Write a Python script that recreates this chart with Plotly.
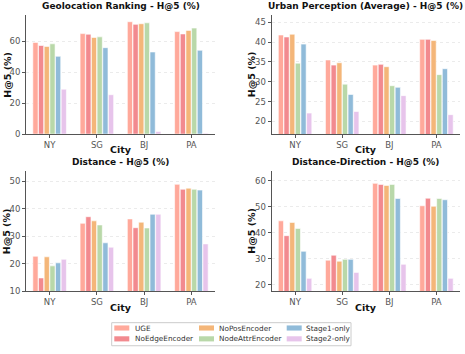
import plotly.graph_objects as go

cities = ['NY', 'SG', 'BJ', 'PA']
models = ['UGE', 'NoEdgeEncoder', 'NoPosEncoder', 'NodeAttrEncoder', 'Stage1-only', 'Stage2-only']
colors = ['#ffa99b', '#f28a8f', '#f4b679', '#b9d8a9', '#90bbd9', '#e7c4eb']

# H@5 (%) per model, order NY, SG, BJ, PA
geo = {
    'UGE':             [59.4, 65.1, 72.8, 66.4],
    'NoEdgeEncoder':   [57.4, 64.7, 71.1, 64.9],
    'NoPosEncoder':    [56.8, 62.6, 71.5, 67.2],
    'NodeAttrEncoder': [58.5, 63.0, 72.1, 68.7],
    'Stage1-only':     [50.4, 56.0, 53.2, 54.3],
    'Stage2-only':     [29.1, 25.5, 1.7, 0.6],
}
urban = {
    'UGE':             [41.8, 35.5, 34.2, 40.7],
    'NoEdgeEncoder':   [41.3, 34.2, 34.4, 40.7],
    'NoPosEncoder':    [42.0, 34.8, 33.8, 40.4],
    'NodeAttrEncoder': [34.7, 29.4, 29.0, 31.8],
    'Stage1-only':     [39.5, 26.8, 28.6, 33.3],
    'Stage2-only':     [22.1, 22.5, 26.5, 21.7],
}
dist = {
    'UGE':             [22.7, 34.7, 36.3, 48.9],
    'NoEdgeEncoder':   [14.8, 37.1, 33.1, 47.1],
    'NoPosEncoder':    [22.5, 35.6, 35.1, 47.5],
    'NodeAttrEncoder': [19.2, 34.1, 33.0, 47.1],
    'Stage1-only':     [20.3, 27.6, 38.0, 46.8],
    'Stage2-only':     [21.6, 26.0, 38.0, 27.2],
}
distdir = {
    'UGE':             [44.6, 29.5, 59.0, 50.4],
    'NoEdgeEncoder':   [38.9, 31.4, 58.6, 53.3],
    'NoPosEncoder':    [44.0, 29.1, 58.2, 50.2],
    'NodeAttrEncoder': [41.7, 29.8, 58.6, 53.2],
    'Stage1-only':     [32.9, 29.8, 53.2, 52.7],
    'Stage2-only':     [22.5, 24.8, 27.9, 22.5],
}

panels = [
    ('Geolocation Ranking - H@5 (%)', geo, [0, 77.3], [0, 20, 40, 60]),
    ('Urban Perception (Average) - H@5 (%)', urban, [16.8, 46.9], [20, 25, 30, 35, 40, 45]),
    ('Distance - H@5 (%)', dist, [10, 53.8], [10, 20, 30, 40, 50]),
    ('Distance-Direction - H@5 (%)', distdir, [17.6, 63.8], [20, 30, 40, 50, 60]),
]

W, H = 465, 354
xdoms = [(26, 215), (271.5, 460)]
ydoms = [(15, 136), (173.3, 295.3)]
title_y = [6, 164.7]
city_y = [152, 311.7]
ytitle_x = [7.3, 251.7]
font = 'DejaVu Sans'

def px(x):
    return x / W

def py(y):
    return 1 - y / H

fig = go.Figure()
layout = {}
annots = []
shapes = []

for i, (title, data, yr, yt) in enumerate(panels):
    r, c = divmod(i, 2)
    n = '' if i == 0 else str(i + 1)
    x0, x1 = xdoms[c]
    y0, y1 = ydoms[r]
    for m, col in zip(models, colors):
        fig.add_trace(go.Bar(
            x=cities, y=data[m], name=m, marker_color=col,
            marker_line=dict(color='white', width=0.6),
            xaxis='x' + n, yaxis='y' + n, showlegend=False,
        ))
    layout['xaxis' + n] = dict(
        domain=[px(x0), px(x1)], anchor='y' + n,
        showline=True, linecolor='#555', linewidth=1,
        ticks='outside', ticklen=3, tickcolor='#555',
        tickfont=dict(size=8.5, color='#555'),
    )
    layout['yaxis' + n] = dict(
        domain=[py(y1), py(y0)], anchor='x' + n,
        range=yr, tickvals=yt,
        showline=True, linecolor='#555', linewidth=1,
        ticks='outside', ticklen=3, tickcolor='#555',
        showgrid=True, gridcolor='#ebebeb', gridwidth=0.8, griddash='dot',
        zeroline=False,
        tickfont=dict(size=8.5, color='#555'),
    )
    annots.append(dict(
        text='<b>' + title + '</b>', xref='paper', yref='paper',
        x=px((x0 + x1) / 2), y=py(title_y[r]), xanchor='center', yanchor='middle',
        showarrow=False, font=dict(size=9, color='#111'),
    ))
    annots.append(dict(
        text='<b>City</b>', xref='paper', yref='paper',
        x=px((x0 + x1) / 2), y=py(city_y[r]), xanchor='center', yanchor='middle',
        showarrow=False, font=dict(size=9.5, color='#111'),
    ))
    annots.append(dict(
        text='<b>H@5 (%)</b>', xref='paper', yref='paper', textangle=-90,
        x=px(ytitle_x[c]), y=py((y0 + y1) / 2), xanchor='center', yanchor='middle',
        showarrow=False, font=dict(size=9.5, color='#111'),
    ))

# legend drawn by hand: 3 columns x 2 rows, column-major like matplotlib
leg_cols = [(114.3, 132.7), (199, 217), (286.7, 304)]
leg_rows = [332.7, 343.7]
for k, (m, col) in enumerate(zip(models, colors)):
    sx, tx = leg_cols[k // 2]
    ry = leg_rows[k % 2]
    shapes.append(dict(type='rect', xref='paper', yref='paper',
                       x0=px(sx), x1=px(sx + 15), y0=py(ry + 2.6), y1=py(ry - 2.6),
                       line=dict(width=0), fillcolor=col))
    annots.append(dict(text=m, xref='paper', yref='paper', x=px(tx), y=py(ry),
                       xanchor='left', yanchor='middle', showarrow=False,
                       font=dict(size=7.3, color='#333')))
shapes.append(dict(type='rect', xref='paper', yref='paper',
                   x0=px(111.7), x1=px(351), y0=py(350.7), y1=py(327.3),
                   line=dict(color='#cccccc', width=1), fillcolor='rgba(0,0,0,0)'))

fig.update_layout(
    width=W, height=H,
    margin=dict(l=0, r=0, t=0, b=0),
    plot_bgcolor='white', paper_bgcolor='white',
    font=dict(family=font, color='#333'),
    barmode='group', bargap=0.28, bargroupgap=0.08,
    showlegend=False,
    annotations=annots,
    shapes=shapes,
    **layout,
)

# page body has a default 8px margin; drop it so the figure fills the window
fig.write_html("out.html", config={'displayModeBar': False},
               post_script="document.body.style.margin='0px';")
